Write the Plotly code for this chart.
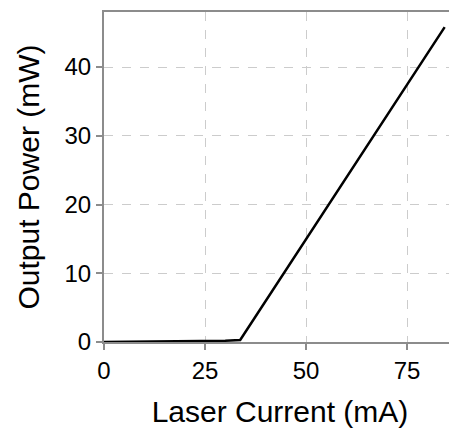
import plotly.graph_objects as go

current_mA = [0, 10, 20, 30, 33.7, 84.3]
power_mW = [0.0, 0.05, 0.1, 0.2, 0.3, 45.8]

x_ticks = [0, 25, 50, 75]
y_ticks = [0, 10, 20, 30, 40]

FONT = "Liberation Sans, Arial, sans-serif"

fig = go.Figure()
fig.add_trace(go.Scatter(
    x=current_mA, y=power_mW, mode="lines",
    line=dict(color="black", width=2.5),
    showlegend=False,
))

axis_common = dict(
    showline=True, linecolor="#8c8c8c", linewidth=2,
    ticks="outside", ticklen=6, tickcolor="#8c8c8c", tickwidth=2,
    showgrid=True, gridcolor="#cccccc", griddash="dash", gridwidth=1,
    zeroline=False,
    tickfont=dict(family=FONT, size=24, color="black"),
)

fig.update_xaxes(
    range=[0, 87.1], tickvals=x_ticks, mirror=True,
    title=dict(text="Laser Current (mA)",
               font=dict(family=FONT, size=30, color="black"),
               standoff=18),
    **axis_common,
)
fig.update_yaxes(
    range=[0, 48], tickvals=y_ticks,
    title=dict(text="Output Power (mW)",
               font=dict(family=FONT, size=30, color="black"),
               standoff=16),
    **axis_common,
)

fig.update_layout(
    width=457, height=432,
    margin=dict(l=96, r=9, t=2, b=98),
    plot_bgcolor="white", paper_bgcolor="white",
)

fig.write_html("out.html")
